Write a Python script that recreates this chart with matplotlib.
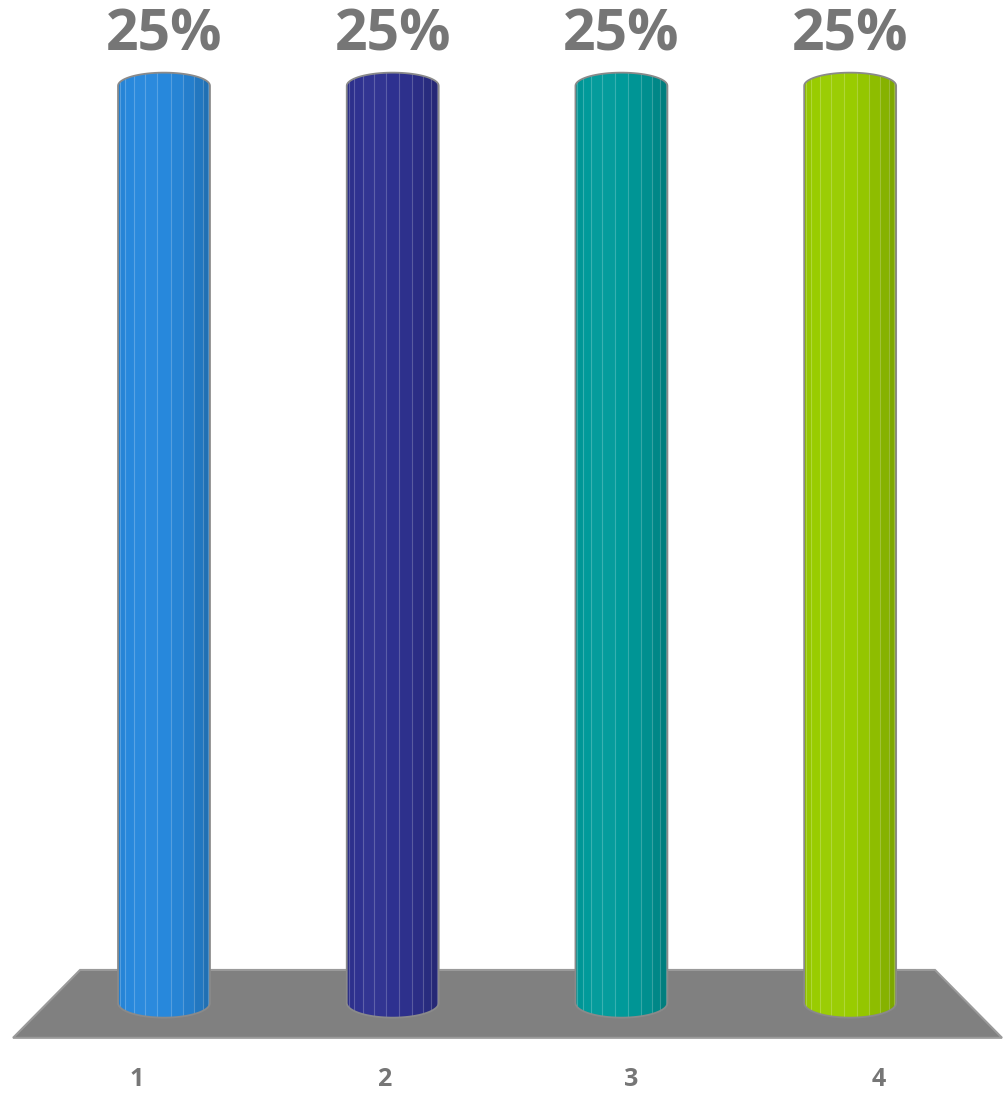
#!/usr/bin/env python3
"""Cilindros 3D con porcentajes (4 categorias, 25% cada una)."""
import numpy as np
import matplotlib
matplotlib.use("Agg")
import matplotlib.pyplot as plt
from matplotlib.path import Path
from matplotlib.patches import PathPatch, Polygon
from matplotlib.colors import to_rgb

categorias = ["1", "2", "3", "4"]
valores = [0.25, 0.25, 0.25, 0.25]
etiquetas = ["25%", "25%", "25%", "25%"]
colores = ["#2788dc", "#2e3190", "#009a9a", "#99cc00"]

GRIS = "#767676"
FUENTE = ["Open Sans", "DejaVu Sans"]

fig = plt.figure(figsize=(10.05, 10.93), dpi=100)
ax = fig.add_axes([0, 0, 1, 1])
ax.set_xlim(-0.717, 3.677)
ax.set_ylim(-0.02454, 0.2734)
ax.axis("off")

x = np.arange(len(valores))
ancho = 0.402
h_sup = 0.0036   # arco superior
h_inf = 0.0040   # arco inferior
n_car = 11       # caras del cilindro

# piso
piso = Polygon([(-0.367, 0.009), (3.371, 0.009), (3.664, -0.0095),
                (-0.660, -0.0095)], closed=True, facecolor="#808080",
               edgecolor="#9a9a9a", lw=1.5, zorder=1)
ax.add_patch(piso)

barras = ax.bar(x, valores, ancho, color=colores, zorder=2, lw=0)


def camino_cilindro(xc, v):
    r = ancho / 2
    t = np.linspace(np.pi, 0, 40)
    sup = np.column_stack([xc + r * np.cos(t), v + h_sup * np.sin(t)])
    t2 = np.linspace(0, -np.pi, 40)
    inf = np.column_stack([xc + r * np.cos(t2), h_inf * np.sin(t2)])
    pts = np.vstack([[xc - r, 0], sup, [xc + r, 0], inf[1:], [xc - r, 0]])
    return Path(pts, closed=True)


for b, xc, v, col in zip(barras, x, valores, colores):
    b.set_visible(False)
    cam = camino_cilindro(xc, v)
    borde = PathPatch(cam, facecolor="none", edgecolor="none", zorder=3)
    ax.add_patch(borde)
    base = np.array(to_rgb(col))
    r = ancho / 2
    th = np.linspace(np.pi, 0, n_car + 1)
    xs = xc + r * np.cos(th)
    for k in range(n_car):
        phi = 0.5 * (th[k] + th[k + 1])
        luz = np.cos(phi - np.radians(115))
        f = 0.82 + 0.2 * max(luz, 0)
        c = np.clip(base * f, 0, 1) if f < 1 else \
            np.clip(base + (f - 1) * (1 - base), 0, 1)
        fac = ax.bar(xs[k], v + h_sup + h_inf, xs[k + 1] - xs[k],
                     bottom=-h_inf, align="edge", color=c, lw=0, zorder=3)
        fac[0].set_clip_path(borde)
        if 0 < k:
            ln = ax.plot([xs[k], xs[k]], [-h_inf, v + h_sup], color="white",
                         alpha=0.22, lw=0.8, zorder=4)[0]
            ln.set_clip_path(borde)
    ax.add_patch(PathPatch(cam, facecolor="none", edgecolor="#8a8a8a",
                           lw=1.3, zorder=5))

# etiquetas de valor
for xc, v, et in zip(x, valores, etiquetas):
    ax.text(xc, v + 0.0138, et, ha="center", va="center", fontsize=41,
            fontweight="bold", color=GRIS, family=FUENTE)

# categorias sobre el borde frontal del piso
frente = np.linspace(-0.660, 3.664, len(categorias) + 1)
cx = 0.5 * (frente[:-1] + frente[1:])
for xx, c in zip(cx, categorias):
    ax.text(xx, -0.0208, c, ha="center", va="center", fontsize=18,
            fontweight="bold", color=GRIS, family=FUENTE)

fig.savefig("out.png", dpi=100)
